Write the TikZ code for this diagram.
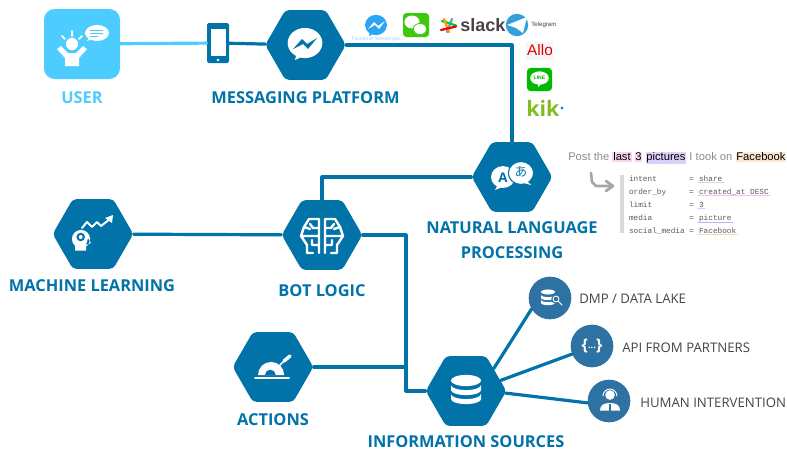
\documentclass[tikz,border=0pt]{standalone}
\usepackage{fontspec}
\setmainfont{Open Sans}
\newfontfamily\monofam{Liberation Mono}
\newfontfamily\arialfam{Liberation Sans}
\newfontfamily\jpfam{Noto Sans CJK JP}
\usetikzlibrary{shapes.geometric}
\definecolor{hexblue}{HTML}{0273A8}
\definecolor{roundblue}{HTML}{2E72A3}
\definecolor{skyblue}{HTML}{4DCCFF}
\definecolor{darktext}{HTML}{444444}
\definecolor{hlpink}{HTML}{FBD3F0}
\definecolor{hllilac}{HTML}{DDD0FA}
\definecolor{hlorange}{HTML}{FCE8CC}
\definecolor{wechatgreen}{HTML}{3DC90C}
\definecolor{linegreen}{HTML}{00B900}
\definecolor{kikgreen}{HTML}{82BC23}
\definecolor{fbblue}{HTML}{2AA5F5}
\definecolor{tgblue}{HTML}{34A0D8}
\definecolor{slackgray}{HTML}{4A4048}
\newcommand{\sz}[1]{\fontsize{#1}{#1}\selectfont}
\newcommand{\hlword}[2]{\colorbox{#1}{\color{black}#2}}
\setlength{\fboxsep}{0.6pt}
\tikzset{
  hexbox/.style={regular polygon,regular polygon sides=6,fill=hexblue,rounded corners=3pt,minimum size=60.5pt,inner sep=0pt},
  roundbox/.style={circle,fill=roundblue,minimum size=32pt,inner sep=0pt},
  link/.style={draw=hexblue,line width=2.4pt},
  bigtext/.style={font=\sz{12.3}\bfseries,text=hexblue,inner sep=0pt},
  sidetext/.style={font=\sz{9.9},text=darktext,inner sep=0pt,anchor=west},
  keytext/.style={font=\monofam\sz{5.8},text=black!65,inner sep=0.6pt,anchor=base west},
}
\begin{document}
\begin{tikzpicture}[x=0.75pt,y=-0.75pt,line cap=round,line join=round]
  \useasboundingbox (0,0) rectangle (787,450);
  % nodes
  \node[fill=skyblue,rounded corners=8pt,minimum width=57pt,minimum height=52.5pt,inner sep=0pt] (user) at (82,44) {};
  \node[fill=hexblue,rounded corners=1.2pt,minimum width=16.5pt,minimum height=30pt,inner sep=0pt] (phone) at (218,43) {};
  \node[hexbox] (msg) at (305.5,45) {};
  \node[hexbox] (nlp) at (512,177) {};
  \node[hexbox] (bot) at (322,235) {};
  \node[hexbox] (ml) at (93,234) {};
  \node[hexbox] (act) at (273,367) {};
  \node[hexbox] (info) at (466,391) {};
  \node[roundbox] (dmp) at (550,298) {};
  \node[roundbox] (api) at (592,346) {};
  \node[roundbox] (human) at (609,401) {};
  \coordinate (bustop) at (406,235);
  \coordinate (busend) at (406,391);
  % connectors
  \draw[link,draw=skyblue] (user) -- (phone);
  \draw[link] (phone) -- (msg);
  \draw[link] (msg) -| (nlp);
  \draw[link] (nlp) -| (bot);
  \draw[link] (ml) -- (bot);
  \draw[link] (bot) -- (bustop) -- (busend) -- (info);
  \draw[link] (act) -- (act -| bustop);
  \draw[link] (info.39) -- (dmp.211);
  \draw[link] (info.17) -- (api.202);
  \draw[link] (info.-3) -- (human.185);
  % labels
  \node[bigtext,text=skyblue] (userlbl) at (82,98) {USER};
  \node[bigtext] (msglbl) at (305.5,98) {MESSAGING PLATFORM};
  \node[bigtext] (nlplbl) at (512,228) {NATURAL LANGUAGE};
  \node[bigtext] (nlplbltwo) at (512,253) {PROCESSING};
  \node[bigtext] (botlbl) at (322,291) {BOT LOGIC};
  \node[bigtext] (mllbl) at (92,286) {MACHINE LEARNING};
  \node[bigtext] (actlbl) at (273,420) {ACTIONS};
  \node[bigtext] (infolbl) at (466,442) {INFORMATION SOURCES};
  \node[sidetext] (dmplbl) at (579,299) {DMP / DATA LAKE};
  \node[sidetext] (apilbl) at (622,348) {API FROM PARTNERS};
  \node[sidetext] (humanlbl) at (640,403) {HUMAN INTERVENTION};
  % user icon
  \fill[white] (72,44) circle (4.6pt) (57,49) -- (61,46) -- (68,53) -- (76,53) -- (83,46) -- (87,49) -- (79,58) -- (79,66) -- (65,66) -- (65,58) -- cycle;
  \draw[white,line width=1.5pt] (72,31) -- (72,36) (62,36) -- (65,39) (82,36) -- (79,39);
  \fill[white] (97,33) ellipse (9pt and 6pt) (90,36) -- (87,41) -- (95,38) -- cycle;
  \draw[skyblue,line width=0.7pt] (90,30) -- (103,30) (90,33) -- (103,33) (90,36) -- (98,36);
  % phone and messenger icons
  \fill[white] (210.5,29) rectangle (225.5,56);
  \fill[white] (218,60) circle (1.1pt);
  \fill[white] (305,43) ellipse (13pt and 11.3pt) (297,52) -- (295,60) -- (304,56) -- cycle;
  \fill[hexblue] (293,49) -- (302,39) -- (307,44) -- (317,38) -- (308,49) -- (303,44) -- cycle;
  % nlp icon
  \fill[white] (503,177) ellipse (9pt and 8.2pt) (498,184) -- (495,190) -- (505,186) -- cycle;
  \fill[white,draw=hexblue,line width=0.8pt] (521,173) ellipse (9.5pt and 8.6pt);
  \fill[white] (526,180) -- (531,185) -- (520,182) -- cycle;
  \node[font=\sz{10}\bfseries,text=hexblue,inner sep=0pt] (nlpa) at (503,178) {A};
  \node[font=\jpfam\sz{9.5},text=hexblue,inner sep=0pt] (nlpb) at (521,172) {あ};
  % brain icon
  \foreach \s in {-1,1}
    \draw[white,line width=1.8pt,shift={(322,0)},xscale=\s] (3,219) -- (3,253) (3,219) -- (13,219) -- (18,227) (3,228) -- (9,228) -- (12,224) (3,236) -- (21,236) -- (15,245) -- (15,253) -- (9,253) (21,236) -- (18,227) -- (12,229) (3,245) -- (10,245) -- (10,240);
  % learning icon
  \fill[white] (81,239) circle (6.8pt) (75,240) rectangle (86,250.5) (88,238) -- (91,243) -- (86,245) -- cycle;
  \fill[hexblue] (80.7,237) circle (3.2pt);
  \fill[white] (80.7,237) circle (1.5pt);
  \draw[white,line width=1.5pt] (82,228) -- (87,222) -- (92,227) -- (97,222) -- (101,226) -- (110,219);
  \fill[white] (113,215) -- (112,223) -- (105,218) -- cycle;
  % actions icon
  \fill[white] (258,375) arc[start angle=180,end angle=0,radius=9.8pt] -- cycle;
  \fill[hexblue] (265,375) arc[start angle=180,end angle=0,radius=4pt] -- cycle;
  \draw[white,line width=1.5pt] (255,378) -- (289,378);
  \draw[white,line width=1.3pt] (280,365) -- (284,361);
  \draw[white,line width=2.6pt] (284,361) -- (290,356);
  % database icon
  \fill[white] (466,380.5) ellipse (11.3pt and 4.2pt);
  \foreach \y in {385,394}
    \fill[white] (451,\y) -- (451,\y+5) arc[start angle=180,end angle=360,x radius=11.3pt,y radius=3.8pt] -- (481,\y) arc[start angle=0,end angle=-180,x radius=11.3pt,y radius=3.8pt] -- cycle;
  % round icons
  \fill[white] (548,292) ellipse (5.2pt and 1.9pt);
  \foreach \y in {295,300}
    \fill[white] (541,\y) -- (541,\y+3) arc[start angle=180,end angle=360,x radius=5.2pt,y radius=1.6pt] -- (555,\y) arc[start angle=0,end angle=-180,x radius=5.2pt,y radius=1.6pt] -- cycle;
  \draw[roundblue,fill=roundblue,line width=0.7pt] (556,299) circle (3.2pt);
  \draw[white,line width=0.7pt] (556,299) circle (2.2pt) (558.5,301.5) -- (562,305);
  \node[font=\sz{12}\bfseries,text=white,inner sep=0pt] (apisign) at (592,346) {\{\raisebox{1.5pt}{\sz{7}...}\}};
  \fill[white] (610,395) circle (3.6pt) (600,410.5) .. controls (600,405) and (604,403) .. (610,403) .. controls (616,403) and (620,405) .. (620,410.5) -- cycle;
  \draw[white,line width=0.7pt] (603,396) arc[start angle=180,end angle=0,radius=5.2pt];
  \fill[roundblue] (609,404) -- (611,404) -- (611,410.5) -- (609,410.5) -- cycle;
  % logos
  \fill[fbblue] (376,25) ellipse (8.2pt and 7.6pt) (370,32) -- (369,36) -- (376,33) -- cycle;
  \fill[white] (368,29) -- (374,22) -- (378,26) -- (385,21) -- (379,29) -- (375,25) -- cycle;
  \node[font=\arialfam\sz{3.8},text=fbblue!45,inner sep=0pt] (fbname) at (376,39.5) {Facebook Messenger};
  \node[fill=wechatgreen,rounded corners=2.5pt,minimum width=19.5pt,minimum height=18pt,inner sep=0pt] (wechat) at (416,25) {};
  \fill[white] (412,22) ellipse (5.7pt and 4.8pt) (420,29) ellipse (5pt and 4.2pt);
  \draw[wechatgreen,line width=0.6pt] (420,29) ellipse (5pt and 4.2pt);
  \draw[line width=1.7pt,cyan!60!gray] (452,19) -- (447,32);
  \draw[line width=1.7pt,green!60!teal] (442,21) -- (456,25.5);
  \draw[line width=1.7pt,orange!80!yellow] (444,19) -- (449,32);
  \draw[line width=1.7pt,red!80!purple] (441,30) -- (456,26.5);
  \node[font=\arialfam\sz{13.5}\bfseries,text=slackgray,inner sep=0pt,anchor=west] (slack) at (460,25) {slack};
  \fill[tgblue] (517,25) circle (8.4pt);
  \fill[white] (507,25) -- (527,17) -- (523,33) -- (516,28) -- cycle;
  \node[font=\arialfam\sz{4.6},text=darktext,inner sep=0pt,anchor=west] (telegram) at (531,25) {Telegram};
  \fill[black!4] (526,42) rectangle (553,60) (526,60) -- (526,62) -- (530,60) -- cycle;
  \node[font=\arialfam\sz{11.5},text=red!90!black,inner sep=0pt] (allo) at (540,50.5) {Allo};
  \node[fill=linegreen,rounded corners=3pt,minimum width=19pt,minimum height=17.5pt,inner sep=0pt] (line) at (539.5,79.5) {};
  \fill[white] (539.5,78) ellipse (7pt and 5pt) (538,83) -- (538,87) -- (543,82) -- cycle;
  \node[font=\arialfam\sz{3.8}\bfseries,text=linegreen,inner sep=0pt] (linetxt) at (539.5,78) {LINE};
  \node[font=\sz{16}\bfseries,text=kikgreen,inner sep=0pt,anchor=base west] (kik) at (526,116) {kik};
  \fill[cyan!70!blue] (562,108) circle (1.3pt);
  % sentence
  \node[font=\arialfam\sz{8.4},text=black!45,inner sep=0pt,anchor=west] (post) at (568,158) {Post the \hlword{hlpink}{last} \hlword{hlpink}{3} \hlword{hllilac}{pictures} I took on \hlword{hlorange}{Facebook}};
  \draw[black!35,line width=2pt] (591,173) -- (592,182) -- (596,186) -- (610,186);
  \draw[black!35,line width=2pt] (606,181) -- (613,186) -- (606,191);
  \draw[black!15,line width=2.4pt,line cap=butt] (622,175) -- (622,233);
  \foreach \i/\y/\k/\v/\c in {1/181/intent/share/black!15,2/194/order\_by/created\_at DESC/hlpink!90!magenta,3/207/limit/3/hlpink!90!magenta,4/220/media/picture/hllilac!85!blue,5/233/social\_media/Facebook/hlorange!85!orange}{
    \node[keytext] (key\i) at (628,\y) {\k};
    \node[keytext] (eq\i) at (688,\y) {=};
    \node[keytext] (val\i) at (698,\y) {\v};
    \draw[\c,line width=0.8pt] (val\i.south west) -- (val\i.south east);
  }
\end{tikzpicture}
\end{document}
